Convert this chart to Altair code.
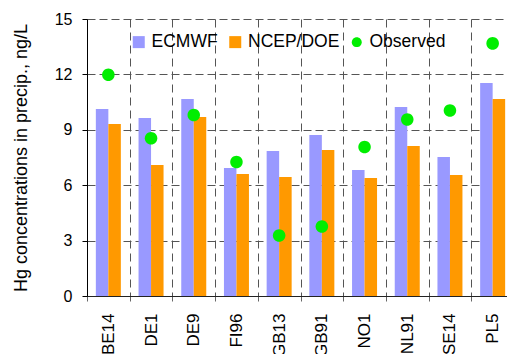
import altair as alt
import pandas as pd

sites = ["BE14", "DE1", "DE9", "FI96", "GB13", "GB91", "NO1", "NL91", "SE14", "PL5"]
ecmwf = [10.12, 9.64, 10.67, 6.93, 7.85, 8.72, 6.82, 10.23, 7.53, 11.53]
ncep = [9.31, 7.09, 9.69, 6.61, 6.44, 7.90, 6.39, 8.12, 6.55, 10.67]
observed = [11.98, 8.54, 9.80, 7.26, 3.28, 3.77, 8.07, 9.56, 10.05, 13.68]
series = ["ECMWF", "NCEP/DOE", "Observed"]
colors = ["#9999FF", "#FF9900", "#00EE00"]
circle_path = "M-0.83,0A0.83,0.83 0 1,0 0.83,0A0.83,0.83 0 1,0 -0.83,0Z"
shapes = ["square", "square", circle_path]
y_ticks = [0, 3, 6, 9, 12, 15]

bars_df = pd.DataFrame(
    [{"site": s, "series": "ECMWF", "value": v} for s, v in zip(sites, ecmwf)]
    + [{"site": s, "series": "NCEP/DOE", "value": v} for s, v in zip(sites, ncep)]
)
obs_df = pd.DataFrame({"site": sites, "series": "Observed", "value": observed})

FONT = "Liberation Sans"

x_enc = alt.X(
    "site:N",
    sort=sites,
    scale=alt.Scale(paddingInner=0, paddingOuter=0, range=[0, 427]),
    axis=alt.Axis(
        title=None,
        labelAngle=270,
        labelFontSize=17,
        labelFont=FONT,
        labelColor="black",
        labelPadding=12,
        tickBand="extent",
        tickSize=5,
        tickColor="#666666",
        domainColor="#222222",
        grid=True,
        gridDash=[8, 5],
        gridColor="#555555",
    ),
)

y_enc = alt.Y(
    "value:Q",
    scale=alt.Scale(domain=[0, 15], nice=False),
    axis=alt.Axis(
        title="Hg concentrations in precip., ng/L",
        titleFont=FONT,
        titleFontSize=18,
        titleFontWeight="normal",
        titleColor="black",
        titleX=-61,
        titleY=138.5,
        titleAngle=270,
        titleBaseline="alphabetic",
        titleAlign="center",
        values=y_ticks,
        labelFontSize=16,
        labelFont=FONT,
        labelColor="black",
        labelPadding=10,
        tickSize=5,
        tickColor="black",
        domainColor="black",
        grid=True,
        gridDash=[8, 4],
        gridColor="#555555",
    ),
)

color_scale = alt.Scale(domain=series, range=colors)
shape_scale = alt.Scale(domain=series, range=shapes)

legend = alt.Legend(
    title=None,
    orient="none",
    legendX=43,
    legendY=14,
    direction="horizontal",
    labelFont=FONT,
    labelFontSize=17.5,
    labelColor="black",
    labelOffset=4,
    columnPadding=8.5,
    symbolSize=144,
    symbolStrokeWidth=0,
    symbolOpacity=1,
    padding=0,
)

bars = alt.Chart(bars_df).mark_bar().encode(
    x=x_enc,
    xOffset=alt.XOffset("series:N", scale=alt.Scale(domain=["ECMWF", "NCEP/DOE"], paddingInner=0, paddingOuter=0.708)),
    y=y_enc,
    color=alt.Color("series:N", scale=color_scale, legend=legend),
)

points = alt.Chart(obs_df).mark_point(filled=True, opacity=1, size=227, strokeWidth=0).encode(
    x=alt.X("site:N", sort=sites),
    y=alt.Y("value:Q"),
    color=alt.Color("series:N", scale=color_scale, legend=legend),
    shape=alt.Shape("series:N", scale=shape_scale, legend=legend),
)

chart = (
    alt.layer(bars, points)
    .properties(
        width=420,
        height=277,
        padding={"left": 87, "top": 19, "right": 0, "bottom": 58},
        autosize=alt.AutoSizeParams(type="none"),
        background="white",
    )
    .configure_view(strokeWidth=0)
)

chart.save("out.html", embed_options={"renderer": "svg", "actions": False})
